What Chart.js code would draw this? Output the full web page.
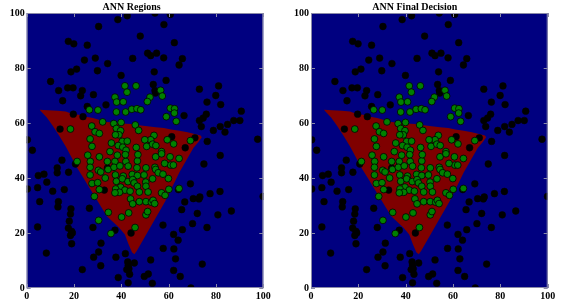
<!DOCTYPE html>
<html><head><meta charset="utf-8">
<script src="https://cdn.jsdelivr.net/npm/chart.js@4/dist/chart.umd.min.js"></script>
<style>
html,body{margin:0;padding:0;background:#fff;width:565px;height:306px;overflow:hidden}
.c{position:absolute;top:0}
</style></head><body>
<div class="c" style="left:0"><canvas id="c1" width="282" height="306"></canvas></div>
<div class="c" style="left:282px"><canvas id="c2" width="283" height="306"></canvas></div>
<script>
const titles = ['ANN Regions', 'ANN Final Decision'];
const tickValues = [0, 20, 40, 60, 80, 100];

const blackX = [30.4,38.5,42.5,54.2,60.7,58,48,17.6,19.9,25.6,62.4,51.1,52.4,54.9,44.8,57.9,29,24.4,34.2,65.8,64.4,21.1,18.7,29.9,53.9,39.9,10.1,58.9,53.5,13.5,17.3,19.6,23.5,54.2,54.4,22.8,28.2,15.2,73,81.1,79.9,76.2,82,33.5,25.6,90.7,19.7,23.8,66.5,75.9,74.6,73,90.1,87.5,73.8,84.9,81.8,78.9,83.8,14.1,76.3,97.6,0.3,2.4,61.3,67,71.1,
20.6,34.1,0.3,4.6,4.9,7.3,8.5,11,14.9,12.9,12.9,17.7,15.9,5.5,13.4,13.2,18.7,18.5,18,26.5,32.8,4.6,17.6,19,18.5,19.3,19,28,37.3,44.1,31.4,8.3,30.4,28.3,37.7,41.7,31.3,23.5,42.7,42.9,42.3,43.2,45.5,43.5,38.7,42.9,49.7,51.4,53.1,52.4,57.6,62.1,64,65.8,57.7,62.2,62.9,62.1,64.9,69.4,65.5,66.8,70.1,74.2,76.2,72.1,70.4,72.8,73.2,69.2,77.5,81.7,74.9,81.8,80.8,86.5,99.9,64.1];
const blackY = [95.1,97.6,99,100,99.5,95.8,91.6,89.7,88.8,88.3,89.2,85.4,84.5,85.4,83.5,83.7,83.6,82.9,81.6,83.4,81.1,79.6,78.6,79,78.6,77.3,75.1,75.5,74,71.8,72.8,72.8,71.8,71.8,70.9,69.9,70.3,68.1,72.3,73.5,70,67.6,66.7,66.6,66,64.3,63.2,62.3,62.7,63.2,61.8,60.9,60.9,60.9,58.7,59.5,58.7,57.3,56.7,57.8,53.3,54.1,53.9,50.1,55,51,54.6,
45.1,43.6,36,36.5,40.9,41.4,38.5,35.2,46.5,43.7,41.9,42.1,35.8,31.4,31.4,29.5,28.8,26.9,24.3,29,35.6,22.2,21.8,20.6,19.1,20,16.1,22,21,20,16.3,12.7,13.1,11.2,11.2,12.5,8.1,6.7,9.5,8.3,6.7,7,9.1,5,3.8,1.9,4.2,5.1,1.7,10.2,22.9,19.5,17.4,21.2,14.4,14.2,10.6,6.4,4.2,0,28.5,31.3,23.4,8.7,22,27.1,32.5,32.4,33.1,37.9,34.3,35.1,45.1,48.2,26.6,28,33.3,35.8];

const greenX = [41.5,46.2,42.4,56.6,57.3,37.3,38,40.8,52.1,51,26.5,30.1,37.9,41.8,44.4,46.6,48.2,60.7,62.5,62.4,59,63.2,18.5,27.5,32.1,36.8,39.9,37.9,45.9,47.3,28.9,30.7,39.7,39,37.5,53.8,52.4,49.9,59.4,62.1,69.2,26.8,27.6,35.8,40.4,38.7,42.5,40.6,42,46.3,50.7,53.2,54.6,57,35.2,
21.3,25.8,30.7,26.9,34.1,37.3,41.9,46.8,47,41.7,38.3,54.5,57,60.6,60.8,62,64.4,58.3,26.8,30.3,31.3,34.4,36.9,39.4,42.9,46.6,50.4,54.2,54.5,55.6,57.6,26.8,33.2,37.5,40.8,44.6,46.8,49.6,53.2,59.9,27.6,30,37.9,40.4,42.8,44.8,45.4,50.3,46.8,50.4,39.7,37.6,30.7,41.5,39.2,37.3,43.7,47.6,51.3,57,58.5,60.1,64.4,28.6,43.9,44.8,47.6,50.4,52.7,53.4,54.1,34.5,43.1,50.4,51.1,40.1,30.4,45.8,35.6];
const greenY = [73.5,73.5,71.2,71.9,69.8,69.4,67.6,67.7,69.4,67.8,64.8,64.7,64,64,65,65.2,64.8,65.4,65.2,63.6,62.3,60.6,57.8,58.9,60.4,59.8,60.2,58,59.3,57.3,56.8,56.2,57.2,55.7,55.7,55.5,53.9,53.9,53.9,52.4,53.6,54.2,51.5,52.7,53.3,51.8,53.4,51.2,50.1,51.1,51.5,52.3,51.8,49.6,49.6,
46,48.3,47.7,46,46,46,46,46.2,48.5,48.5,48.3,47.7,48.8,47.7,44.7,44.7,47.1,45.3,43.9,42.8,42.2,43.1,43.9,44.4,44.3,43.7,43.7,43.9,43.1,41.9,41.4,41.1,40,41.1,40.7,41.3,40.9,41.1,39.7,39.8,38,38.3,38.8,39.7,38.7,39.4,38.2,38.5,37,37,36.7,36,35.8,35.6,34.8,34.6,35.2,34.9,34.9,34.6,33.7,35.9,36.2,33.3,32.4,30.6,31.4,31.4,31.2,31.9,30.7,27.5,27.3,26.6,27.8,25.8,24.6,22,19.8];

// outline of the red decision region (top edge left->right, down the right side, up the left side)
const regionX = [5.5,9,13,16.5,19,22,25,28,30.5,33,36,40,44,47.5,51,54.5,58,61,64.5,68,71,73.5,74,
72.5,70.5,68.5,66.5,64.5,62.5,60.5,58.5,56.5,54.5,52.5,50.5,48.5,46.5,45.5,
44.5,43,41.5,39,36.5,34,31.5,29,26.5,24,21.5,19,16.5,14,11,8.5,6];
const regionY = [64.8,64.6,64.5,64.2,63.4,63,62.3,61.8,61.2,60.5,60.2,59.8,59.6,59.2,58.8,58.5,58.2,57.6,57.2,56.6,56,55.5,54.8,
53,51,48,45,42,38.5,35,31.5,28.5,25.5,22.5,19.5,16.5,13.5,12.3,
13,16,19.5,22,24,26,29.5,33,36.5,40,43.5,47.5,51.5,55,59,62,64.3];

const pts = (xs, ys) => xs.map((x, i) => ({x, y: ys[i]}));

const frameTicks = {
  id: 'frameTicks',
  beforeDatasetsDraw(chart) {
    const {ctx, chartArea: a} = chart;
    ctx.save();
    ctx.fillStyle = '#000080';
    ctx.fillRect(a.left, a.top, a.right - a.left, a.bottom - a.top);
    ctx.restore();
  },
  afterDatasetsDraw(chart) {
    const {ctx, chartArea: a, scales} = chart;
    ctx.save();
    ctx.strokeStyle = '#8a8aa8';
    ctx.lineWidth = 1;
    ctx.strokeRect(a.left + 0.5, a.top + 0.5, a.right - a.left - 1, a.bottom - a.top - 1);
    ctx.beginPath();
    tickValues.forEach(v => {
      const px = Math.round(scales.x.getPixelForValue(v)) + 0.5;
      const py = Math.round(scales.y.getPixelForValue(v)) + 0.5;
      ctx.moveTo(px, a.top); ctx.lineTo(px, a.top + 4);
      ctx.moveTo(px, a.bottom); ctx.lineTo(px, a.bottom - 4);
      ctx.moveTo(a.left, py); ctx.lineTo(a.left + 4, py);
      ctx.moveTo(a.right, py); ctx.lineTo(a.right - 4, py);
    });
    ctx.stroke();
    ctx.restore();
  }
};

const font = {family: 'Liberation Serif', weight: 'bold', size: 10};

function makeChart(id, title, yw, rightPad) {
  return new Chart(document.getElementById(id), {
    type: 'scatter',
    data: {
      datasets: [
        {data: pts(regionX, regionY), order: 3, showLine: true, fill: 'shape', backgroundColor: '#7f0000',
         borderWidth: 0, pointRadius: 0, pointHoverRadius: 0, tension: 0},
        {data: pts(blackX, blackY), order: 2, backgroundColor: '#000', borderColor: '#000', borderWidth: 0.5,
         pointRadius: 3.4, pointHoverRadius: 3.4},
        {data: pts(greenX, greenY), order: 1, backgroundColor: '#008000', borderColor: '#000', borderWidth: 0.8,
         pointRadius: 3.4, pointHoverRadius: 3.4}
      ]
    },
    options: {
      responsive: false,
      animation: false,
      devicePixelRatio: 1,
      events: [],
      layout: {padding: {left: 0, right: rightPad, top: 0, bottom: 0}},
      plugins: {
        legend: {display: false},
        tooltip: {enabled: false},
        title: {display: true, text: title, font: font, color: '#000', padding: {top: 1, bottom: 0}}
      },
      scales: {
        x: {
          type: 'linear', min: 0, max: 100,
          afterBuildTicks: s => { s.ticks = tickValues.map(v => ({value: v})); },
          grid: {display: false, drawTicks: false},
          border: {display: false},
          ticks: {font: font, color: '#000', padding: 2, maxRotation: 0},
          afterFit: s => { s.height = 18; }
        },
        y: {
          type: 'linear', min: 0, max: 100,
          afterBuildTicks: s => { s.ticks = tickValues.map(v => ({value: v})); },
          grid: {display: false, drawTicks: false},
          border: {display: false},
          ticks: {font: font, color: '#000', padding: 2},
          afterFit: s => { s.width = yw; }
        }
      }
    },
    plugins: [frameTicks]
  });
}

makeChart('c1', titles[0], 26.7, 18.7);
makeChart('c2', titles[1], 29, 17.3);
</script>
</body></html>
